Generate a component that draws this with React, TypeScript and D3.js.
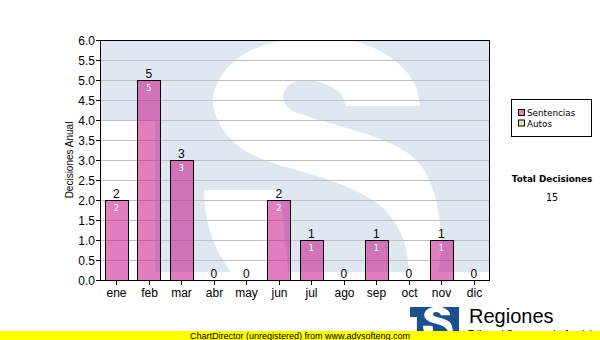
import React from 'react';
import * as d3 from 'd3';

const months = ["ene", "feb", "mar", "abr", "may", "jun", "jul", "ago", "sep", "oct", "nov", "dic"];
const sentencias = [2, 5, 3, 0, 0, 2, 1, 0, 1, 0, 1, 0];
const autos = [0, 0, 0, 0, 0, 0, 0, 0, 0, 0, 0, 0];
const yTicks = [0, 0.5, 1, 1.5, 2, 2.5, 3, 3.5, 4, 4.5, 5, 5.5, 6];
const legendItems = ["Sentencias", "Autos"];
const yTitle = "Decisiones Anual";
const totalTitle = "Total Decisiones";
const footer = "ChartDirector (unregistered) from www.advsofteng.com";

const W = 600, H = 340;
const L = 100, T = 40, R = 490, B = 280;
const FONT = "'Liberation Sans', Arial, sans-serif";
const VFONT = "'DejaVu Sans', Verdana, sans-serif";

const x = d3.scaleBand<string>().domain(months).range([L, R]);
const y = d3.scaleLinear().domain([0, 6]).range([B, T]);

type Seg = { pts: [number, number][]; smooth: boolean };

// decorative logo geometry (watermark coordinate space)
const sMain: Seg[] = [
  { pts: [[420, 106], [346, 106]], smooth: false },
  { pts: [[346, 106], [340, 93], [325, 84], [305, 80], [289, 85], [283, 98], [290, 109], [310, 117], [350, 129], [390, 143], [418, 162], [433, 190], [440, 225], [440, 260], [434, 290]], smooth: true },
  { pts: [[434, 290], [402, 290]], smooth: false },
  { pts: [[402, 290], [408, 268], [405, 245], [396, 224], [382, 207], [362, 194], [335, 182], [300, 171], [267, 161], [241, 148], [224, 131], [215, 113], [213, 98], [218, 82], [230, 65], [250, 51], [280, 41], [315, 37], [350, 40], [380, 51], [402, 67], [415, 85], [420, 106]], smooth: true },
];
const sTail: Seg[] = [
  { pts: [[204, 190], [280, 190]], smooth: false },
  { pts: [[280, 190], [283, 220], [286, 250], [290, 290]], smooth: true },
  { pts: [[290, 290], [245, 290]], smooth: false },
  { pts: [[245, 290], [228, 268], [215, 245], [207, 220], [204, 190]], smooth: true },
];

function buildPath(segs: Seg[]): string {
  let d = `M${segs[0].pts[0][0]},${segs[0].pts[0][1]}`;
  const smoothLine = d3.line().curve(d3.curveCatmullRom.alpha(0.5));
  for (const s of segs) {
    if (s.smooth) {
      const p = smoothLine(s.pts) || '';
      d += p.replace(/^M[^A-Za-z]*/, '');
    } else {
      for (let i = 1; i < s.pts.length; i++) d += `L${s.pts[i][0]},${s.pts[i][1]}`;
    }
  }
  return d + 'Z';
}
const sMainPath = buildPath(sMain);
const sTailPath = buildPath(sTail);

function Logo({ blue, white }: { blue: string; white: string }) {
  return (
    <g clipPath="url(#wmClip)">
      <rect x={L} y={T} width={R - L} height={80} fill={blue} />
      <rect x={155} y={T + 80} width={R - 155} height={152} fill={blue} />
      <path d={sMainPath} fill={white} />
      <path d={sTailPath} fill={white} />
    </g>
  );
}

export default function App() {
  const bw = x.bandwidth() * 0.7;
  const totals = months.map((_, i) => sentencias[i] + autos[i]);
  const logoScale = 49 / (R - L);
  return (
    <svg width={W} height={H} style={{ position: 'absolute', left: 0, top: 0 }} fontFamily={FONT}>
      <defs>
        <clipPath id="wmClip" clipPathUnits="userSpaceOnUse">
          <rect x={L} y={T} width={R - L} height={B - T} />
        </clipPath>
      </defs>
      <rect x={0} y={0} width={W} height={H} fill="#ffffff" />
      <Logo blue="#dfe8f1" white="#ffffff" />
      {/* grid */}
      {yTicks.map(t => (
        <line key={'g' + t} x1={L} x2={R} y1={Math.round(y(t)) + 0.5} y2={Math.round(y(t)) + 0.5} stroke="#c0c0c0" strokeWidth={1} />
      ))}
      {/* bars */}
      {months.map((m, i) => {
        const cx = (x(m) as number) + x.bandwidth() / 2;
        const x0 = Math.round(cx - bw / 2) + 0.5;
        const w = Math.round(bw);
        const v = sentencias[i];
        return v > 0 ? (
          <g key={'b' + m}>
            <rect x={x0} y={Math.round(y(v)) + 0.5} width={w} height={y(0) - y(v)} fill="rgb(192,0,128)" fillOpacity={0.5} stroke="#000" strokeWidth={1} />
            <text x={cx} y={y(v) + 10.5} fontFamily={VFONT} fontSize={8} fill="#ffffff" textAnchor="middle">{v}</text>
          </g>
        ) : null;
      })}
      {months.map((m, i) => {
        const cx = (x(m) as number) + x.bandwidth() / 2;
        return (
          <text key={'t' + m} x={cx} y={y(totals[i]) - 2} fontSize={12} fill="#000" textAnchor="middle">{totals[i]}</text>
        );
      })}
      {/* frame */}
      <rect x={L + 0.5} y={T + 0.5} width={R - L - 1} height={B - T} fill="none" stroke="#000" strokeWidth={1} />
      {/* y axis ticks */}
      {yTicks.map(t => (
        <g key={'y' + t}>
          <line x1={96} x2={L} y1={Math.round(y(t)) + 0.5} y2={Math.round(y(t)) + 0.5} stroke="#000" />
          <text x={95} y={y(t) + 4.5} fontSize={12} textAnchor="end" fill="#000">{t.toFixed(1)}</text>
        </g>
      ))}
      {/* x axis */}
      <line x1={L} x2={R} y1={B + 0.5} y2={B + 0.5} stroke="#000" />
      {months.map(m => {
        const cx = Math.round((x(m) as number) + x.bandwidth() / 2) + 0.5;
        return (
          <g key={'x' + m}>
            <line x1={cx} x2={cx} y1={B} y2={B + 5} stroke="#000" />
            <text x={cx} y={B + 16.5} fontSize={12} textAnchor="middle" fill="#000">{m}</text>
          </g>
        );
      })}
      <text transform={`translate(73,${(T + B) / 2}) rotate(-90)`} fontSize={10} textAnchor="middle" fill="#000">{yTitle}</text>
      {/* legend */}
      <rect x={511.5} y={99.5} width={80} height={37} fill="#ffffff" stroke="#000" />
      {legendItems.map((name, i) => (
        <g key={name}>
          <rect x={518.5} y={109.5 + i * 10.5} width={6} height={6} fill={i === 0 ? '#df80bf' : '#d9eba6'} stroke="#000" />
          <text x={527} y={116 + i * 10.5} fontFamily={VFONT} fontSize={8.8} fill="#000">{name}</text>
        </g>
      ))}
      <text x={552} y={182} fontFamily={VFONT} fontSize={8.8} fontWeight="bold" textAnchor="middle" fill="#000">{totalTitle}</text>
      <text x={552} y={201} fontFamily={VFONT} fontSize={9.6} textAnchor="middle" fill="#000">{d3.sum(totals)}</text>
      {/* bottom logo */}
      <g transform={`translate(410,307) scale(${logoScale}) translate(${-L},${-T})`}>
        <Logo blue="#1b4f8e" white="#ffffff" />
      </g>
      <text x={469} y={323} fontSize={20} fill="#000">Regiones</text>
      <text x={468} y={337.5} fontSize={10} fill="#000">Tribunal Supremo de Justicia</text>
      <rect x={0} y={331} width={W} height={9} fill="#ffff00" />
      <text x={300} y={338.5} fontSize={9} textAnchor="middle" fill="#000">{footer}</text>
    </svg>
  );
}
